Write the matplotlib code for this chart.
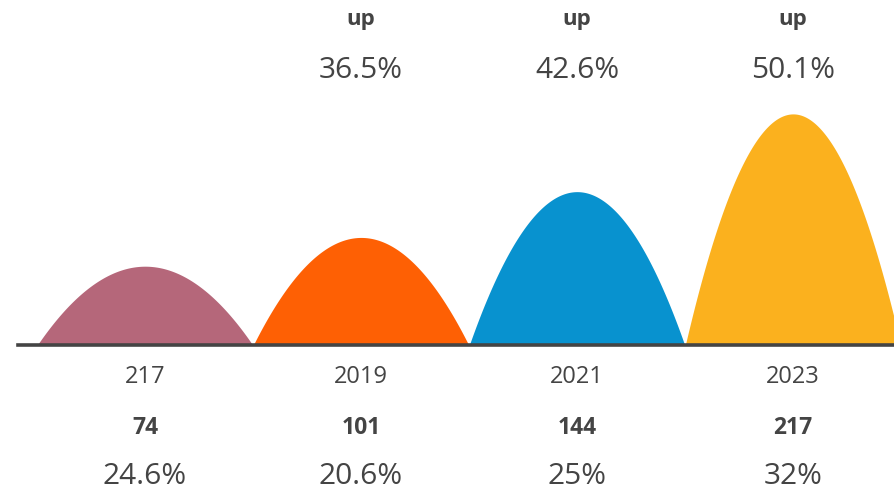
import numpy as np
import matplotlib.pyplot as plt

# chart data
categories = ['217', '2019', '2021', '2023']
values = [74, 101, 144, 217]
shares = ['24.6%', '20.6%', '25%', '32%']
growth = [None, '36.5%', '42.6%', '50.1%']
colors = ['#b5677a', '#fe6004', '#0892cf', '#fbb11e']

W, H = 895, 493
TXT = '#444444'
plt.rcParams['font.family'] = ['Open Sans', 'DejaVu Sans']

fig = plt.figure(figsize=(W / 100, H / 100), dpi=100)
ax = fig.add_axes([0, 0, 1, 1])
ax.set_axis_off()

# px per category and per value unit
step = 216.0
vscale = 1.065
x0 = 145.0 / step
base = 148.0 / vscale
ax.set_xlim(-x0, -x0 + W / step)
ax.set_ylim(-base, -base + H / vscale)

# curved columns (parabolic humps)
width = 0.997
for i, (v, c) in enumerate(zip(values, colors)):
    xs = np.linspace(i - width / 2, i + width / 2, 200)
    ys = v * (1 - (2 * (xs - i) / width) ** 2)
    ax.fill_between(xs, 0, ys, color=c, lw=0, zorder=2)

ax.axhline(0, xmin=18 / W, xmax=1, color='#444444', lw=2.6, zorder=3)

tr = ax.get_xaxis_transform()


def fy(px):
    return 1 - px / H


for i in range(len(categories)):
    ax.text(i, fy(377), categories[i], transform=tr, ha='center', va='center',
            fontsize=17, color=TXT)
    ax.text(i, fy(428), str(values[i]), transform=tr, ha='center', va='center',
            fontsize=16.5, fontweight='bold', color=TXT)
    ax.text(i, fy(477), shares[i], transform=tr, ha='center', va='center',
            fontsize=21.5, color=TXT)
    if growth[i]:
        ax.text(i, fy(20), 'up', transform=tr, ha='center', va='center',
                fontsize=16, fontweight='bold', color=TXT)
        ax.text(i, fy(70), growth[i], transform=tr, ha='center', va='center',
                fontsize=21.5, color=TXT)

fig.savefig('out.png', dpi=100)
